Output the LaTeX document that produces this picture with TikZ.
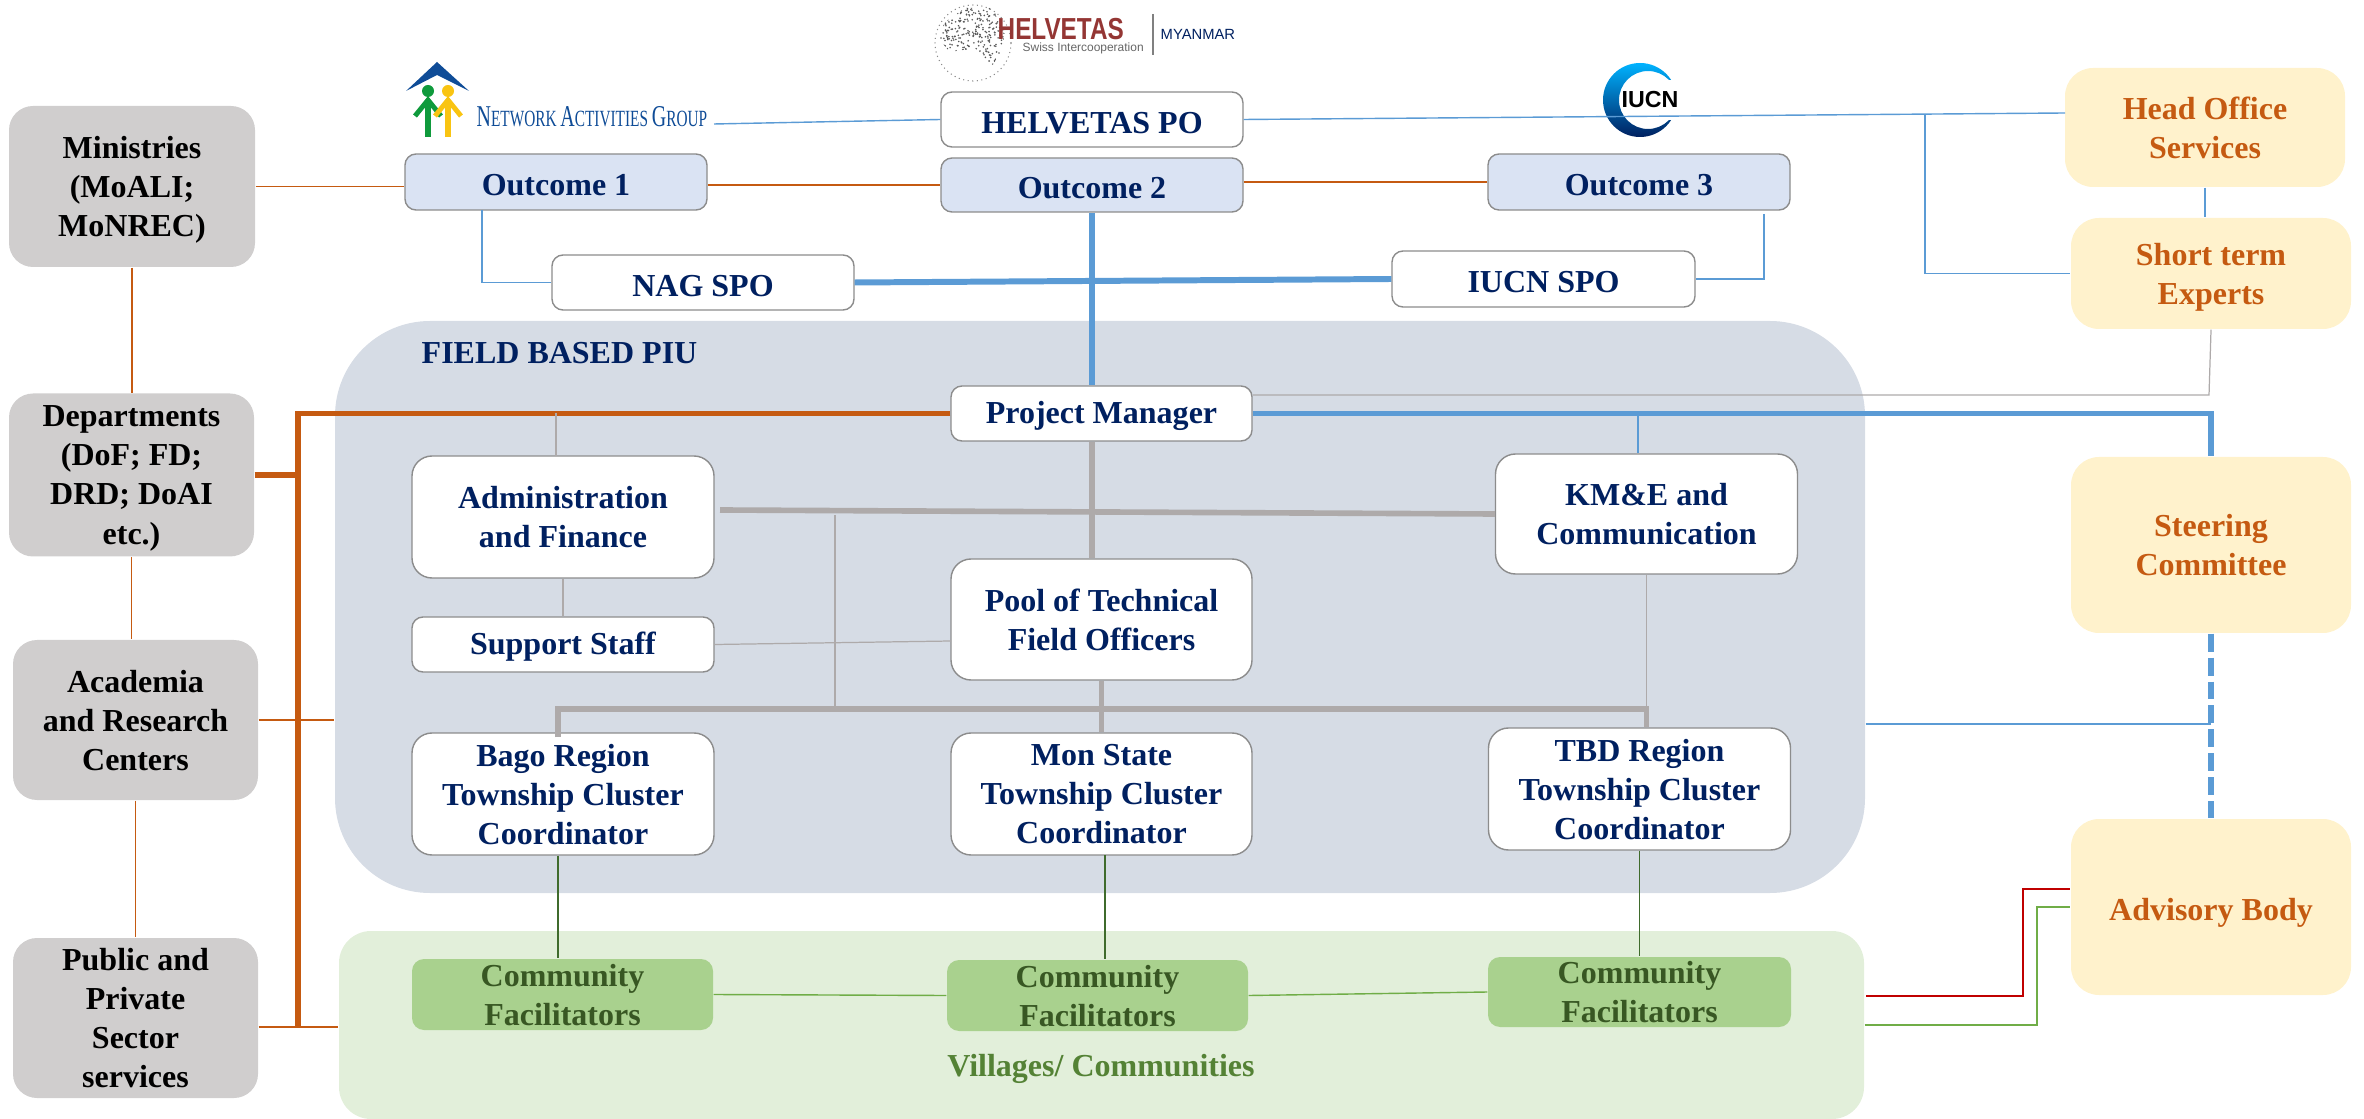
\documentclass[tikz,border=0pt]{standalone}
\usepackage{fontspec}
\setmainfont{Liberation Serif}
\newfontfamily\logofont{Liberation Sans}
\definecolor{navytext}{HTML}{002060}
\definecolor{rusttext}{HTML}{C55A11}
\definecolor{leaftext}{HTML}{385723}
\definecolor{villagetext}{HTML}{548235}
\definecolor{pieblue}{HTML}{5B9BD5}
\definecolor{wallgray}{HTML}{AEAAAA}
\definecolor{boxline}{HTML}{8C8C8C}
\definecolor{outcomefill}{HTML}{DAE3F3}
\definecolor{piufill}{HTML}{D6DCE5}
\definecolor{villagefill}{HTML}{E2EFDA}
\definecolor{cffill}{HTML}{A9D18E}
\definecolor{creamfill}{HTML}{FFF2CC}
\definecolor{stonefill}{HTML}{D0CECE}
\definecolor{stemgreen}{HTML}{3F6B2C}
\definecolor{linkgreen}{HTML}{70AD47}
\definecolor{linkred}{HTML}{C00000}
\definecolor{roofblue}{HTML}{0F4C97}
\definecolor{helvred}{HTML}{943634}
\definecolor{persongreen}{HTML}{0F9A3C}
\definecolor{personyellow}{HTML}{F9C412}
\tikzset{
	dim/.style 2 args={minimum width=#1*0.01cm,minimum height=#2*0.01cm},
	firstline/.style={execute at begin node={\rule{0pt}{#1}}},
	anybox/.style={rectangle,align=center,inner sep=0pt,font=\fontsize{9.1}{11.1}\selectfont\bfseries,firstline=7.9pt},
	whitebox/.style={anybox,text depth=0pt,draw=boxline,line width=0.4pt,fill=white,text=navytext,rounded corners=0.2cm},
	slimbox/.style={anybox,draw=boxline,line width=0.4pt,fill=white,text=navytext,rounded corners=0.11cm},
	outcomebox/.style={slimbox,fill=outcomefill},
	creambox/.style={anybox,text depth=0pt,fill=creamfill,text=rusttext,rounded corners=0.28cm},
	stonebox/.style={anybox,text depth=0pt,fill=stonefill,text=black,rounded corners=0.24cm},
	cfbox/.style={anybox,text depth=0pt,fill=cffill,text=leaftext,rounded corners=0.12cm},
	thinblue/.style={draw=pieblue,line width=0.4pt},
	fatblue/.style={draw=pieblue,line width=1.7pt},
	thinrust/.style={draw=rusttext,line width=0.4pt},
	fatrust/.style={draw=rusttext,line width=1.5pt},
	thingray/.style={draw=wallgray,line width=0.35pt},
	fatgray/.style={draw=wallgray,line width=1.6pt},
}
\begin{document}
\begin{tikzpicture}[x=0.01cm,y=-0.01cm]
		%%%%% START %%%%%
		\useasboundingbox (0,0) rectangle (2364,1119);
		
		\node[anybox,dim={1530}{572},fill=piufill,rounded corners=0.95cm] (piu) at (1100,607) {};
		\node[anybox,dim={1525}{188},fill=villagefill,rounded corners=0.32cm] (village) at (1101.5,1025) {};
		\node[anybox,text=navytext,anchor=west] (piutitle) at (421,350) {FIELD BASED PIU};
		\node[anybox,text=villagetext] (villagetitle) at (1101,1066) {Villages/ Communities};
		
		\fill[roofblue] (437,62) -- (469,91) -- (437,75) -- (406,91) -- cycle;
		\foreach \px/\pcol in {428/persongreen,448/personyellow}{
			\fill[\pcol] (\px,91) circle (6);
			\draw[\pcol,line width=1.4pt] (\px-13,116) -- (\px,100) -- (\px+13,116);
			\draw[\pcol,line width=1.6pt] (\px,100) -- (\px,137);
		}
		\node[anchor=west,inner sep=0pt,text=roofblue] (nagname) at (476,117) {\scalebox{0.66}[1]{\fontsize{8.6}{10}\selectfont N\fontsize{6.6}{10}\selectfont ETWORK \fontsize{8.6}{10}\selectfont A\fontsize{6.6}{10}\selectfont CTIVITIES \fontsize{8.6}{10}\selectfont G\fontsize{6.6}{10}\selectfont ROUP}};
		
		\draw[black!45,densely dotted,line width=0.3pt] (973,43) circle (38);
		\begin{scope}
			\clip (945,22) -- (965,8) -- (992,8) -- (1005,30) -- (1002,50) -- (992,66) -- (975,48) -- (950,52) -- (938,38) -- cycle;
			\pgfmathsetseed{7}
			\foreach \i in {1,...,420}{
				\fill[black!65] ({935+rnd*75},{5+rnd*65}) circle (0.9);
			}
		\end{scope}
		\node[anchor=west,inner sep=0pt,text=helvred] (helvname) at (997,29) {\logofont\bfseries\scalebox{0.96}[1.2]{\fontsize{7.2}{8}\selectfont HELVETAS}};
		\node[anchor=west,inner sep=0pt,text=black!60] (helvsub) at (1022,48) {\logofont\fontsize{3.4}{4}\selectfont Swiss Intercooperation};
		\draw[black!50,line width=0.3pt] (1153,14) -- (1153,55);
		\node[anchor=west,inner sep=0pt,text=navytext] (helvcountry) at (1160,34) {\logofont\fontsize{4.2}{5}\selectfont MYANMAR};
		
		\shade[top color=cyan!70!blue,bottom color=navytext,even odd rule] (1640,100) circle (37) (1648,100) circle (29);
		\fill[white] (1664,80) rectangle (1685,120);
		\node[inner sep=0pt,text=black] (iucnname) at (1650,100) {\logofont\bfseries\fontsize{6.6}{8}\selectfont IUCN};
		
		\node[slimbox,dim={302}{55}] (hpo) at (1092,119.5) {HELVETAS PO};
		\node[outcomebox,dim={302}{56}] (outc1) at (556,182) {Outcome 1};
		\node[outcomebox,dim={302}{54}] (outc2) at (1092,185) {Outcome 2};
		\node[outcomebox,dim={302}{56}] (outc3) at (1639,182) {Outcome 3};
		\node[slimbox,dim={302}{55}] (nagspo) at (703,282.5) {NAG SPO};
		\node[slimbox,dim={303}{56}] (iucnspo) at (1543.5,279) {IUCN SPO};
		
		\node[slimbox,dim={301}{55}] (pm) at (1101.5,413.5) {Project Manager};
		\node[whitebox,dim={302}{122}] (admin) at (563,517) {Administration\\and Finance};
		\node[whitebox,dim={302}{120}] (kme) at (1646.5,514) {KM\&E and\\Communication};
		\node[slimbox,dim={302}{55}] (support) at (563,644.5) {Support Staff};
		\node[whitebox,dim={301}{121}] (pool) at (1101.5,619.5) {Pool of Technical\\Field Officers};
		\node[whitebox,dim={302}{122}] (bago) at (563,794) {Bago Region\\Township Cluster\\Coordinator};
		\node[whitebox,dim={301}{122}] (mon) at (1101.5,794) {Mon State\\Township Cluster\\Coordinator};
		\node[whitebox,dim={302}{122}] (tbd) at (1639.5,789) {TBD Region\\Township Cluster\\Coordinator};
		
		\node[cfbox,dim={301}{71}] (cf1) at (562.5,994.5) {Community\\Facilitators};
		\node[cfbox,dim={301}{71}] (cf2) at (1097.5,995.5) {Community\\Facilitators};
		\node[cfbox,dim={303}{70}] (cf3) at (1639.5,992) {Community\\Facilitators};
		
		\node[stonebox,dim={246}{161}] (mini) at (132,186.5) {Ministries\\(MoALI;\\MoNREC)};
		\node[stonebox,dim={245}{163}] (dept) at (131.5,475) {Departments\\(DoF; FD;\\DRD; DoAI\\etc.)};
		\node[stonebox,dim={245}{160}] (acad) at (135.5,720) {Academia\\and Research\\Centers};
		\node[stonebox,dim={245}{160}] (pub) at (135.5,1018) {Public and\\Private\\Sector\\services};
		
		\node[creambox,dim={280}{119}] (head) at (2205,127.5) {Head Office\\Services};
		\node[creambox,dim={280}{111}] (short) at (2211,273.5) {Short term\\Experts};
		\node[creambox,dim={280}{176}] (steer) at (2211,545) {Steering\\Committee};
		\node[creambox,dim={280}{176}] (adv) at (2211,907) {Advisory Body};
		
		\coordinate (nagtail) at (714,124);
		\coordinate (headin) at (2065,113);
		\coordinate (brtop) at (1925,114.5);
		\coordinate (nagturn) at (482,210);
		\coordinate (iucnturn) at (1764,214);
		\coordinate (kmetap) at (1638,413);
		\coordinate (shortcorner) at (2209,395);
		\coordinate (tapblue) at (2211,724);
		\coordinate (trunkbot) at (298,1027);
		\coordinate (grayrow) at (1101,709);
		\coordinate (bagotop) at (558,737);
		\coordinate (admtap) at (720,510);
		\coordinate (adminbar) at (835,515);
		\coordinate (admintop) at (556,456);
		\coordinate (poolin) at (951,641);
		\coordinate (monstem) at (1105,855);
		\coordinate (redstart) at (1866,996);
		\coordinate (redturn) at (2023,889);
		\coordinate (greenturn) at (2037,907);
		
		\draw[thinblue] (nagtail) -- (hpo.west);
		\draw[thinblue] (hpo.east) -- (headin);
		\draw[thinblue] (brtop) |- (short.west);
		\draw[thinblue] (head.south) -- (head.south |- short.north);
		\draw[thinblue] (nagturn) |- (nagspo.west);
		\draw[thinblue] (iucnturn) |- (iucnspo.east);
		\draw[thinblue] (kmetap) -- (kmetap |- kme.north);
		\draw[thinblue] (tapblue -| piu.east) -- (tapblue);
		
		\draw[fatblue] (nagspo.east) -- (iucnspo.west);
		\draw[fatblue] (outc2.south) -- (outc2.south |- pm.north);
		\draw[fatblue] (pm.east) -| (steer.north);
		\draw[fatblue,dash pattern=on 5.1pt off 1.7pt] (steer.south) -- (adv.north);
		
		\draw[thinrust] (mini.east) -- (mini.east -| outc1.west);
		\draw[thinrust] (outc1.east |- outc2.west) -- (outc2.west);
		\draw[thinrust] (outc2.east |- outc3.west) -- (outc3.west);
		\draw[thinrust] (mini.south) -- (mini.south |- dept.north);
		\draw[thinrust] (dept.south) -- (dept.south |- acad.north);
		\draw[thinrust] (acad.south) -- (pub.north);
		\draw[thinrust] (acad.east) -- (acad.east -| piu.west);
		\draw[thinrust] (pub.east |- trunkbot) -- (trunkbot -| village.west);
		\draw[fatrust] (pm.west) -| (trunkbot);
		\draw[fatrust] (dept.east) -- (dept.east -| trunkbot);
		
		\draw[thingray] (short.south) -- (shortcorner) -- (shortcorner -| pm.east);
		\draw[thingray] (admintop) -- (admintop |- pm.west);
		\draw[thingray] (admin.south) -- (support.north);
		\draw[thingray] (support.east) -- (poolin);
		\draw[thingray] (adminbar) -- (adminbar |- grayrow);
		\draw[thingray] (kme.south) -- (kme.south |- grayrow);
		\draw[fatgray] (admtap) -- (kme.west);
		\draw[fatgray] (pm.south -| outc2.south) -- (pool.north -| outc2.south);
		\draw[fatgray] (pool.south) -- (mon.north);
		\draw[fatgray] (bagotop) -- (bagotop |- grayrow) -- (kme.south |- grayrow) -- (kme.south |- tbd.north);
		
		\draw[stemgreen,line width=0.4pt] (bagotop |- bago.south) -- (bagotop |- cf1.north);
		\draw[stemgreen,line width=0.4pt] (monstem) -- (monstem |- cf2.north);
		\draw[stemgreen,line width=0.4pt] (tbd.south) -- (cf3.north);
		\draw[linkgreen,line width=0.4pt] (cf1.east) -- (cf2.west);
		\draw[linkgreen,line width=0.4pt] (cf2.east) -- (cf3.west);
		\draw[linkgreen,line width=0.4pt] (village.east) -| (greenturn) -- (greenturn -| adv.west);
		\draw[linkred,line width=0.4pt] (redstart) -| (redturn) -- (redturn -| adv.west);
		
		%%%%% END %%%%%
	\end{tikzpicture}
\end{document}
